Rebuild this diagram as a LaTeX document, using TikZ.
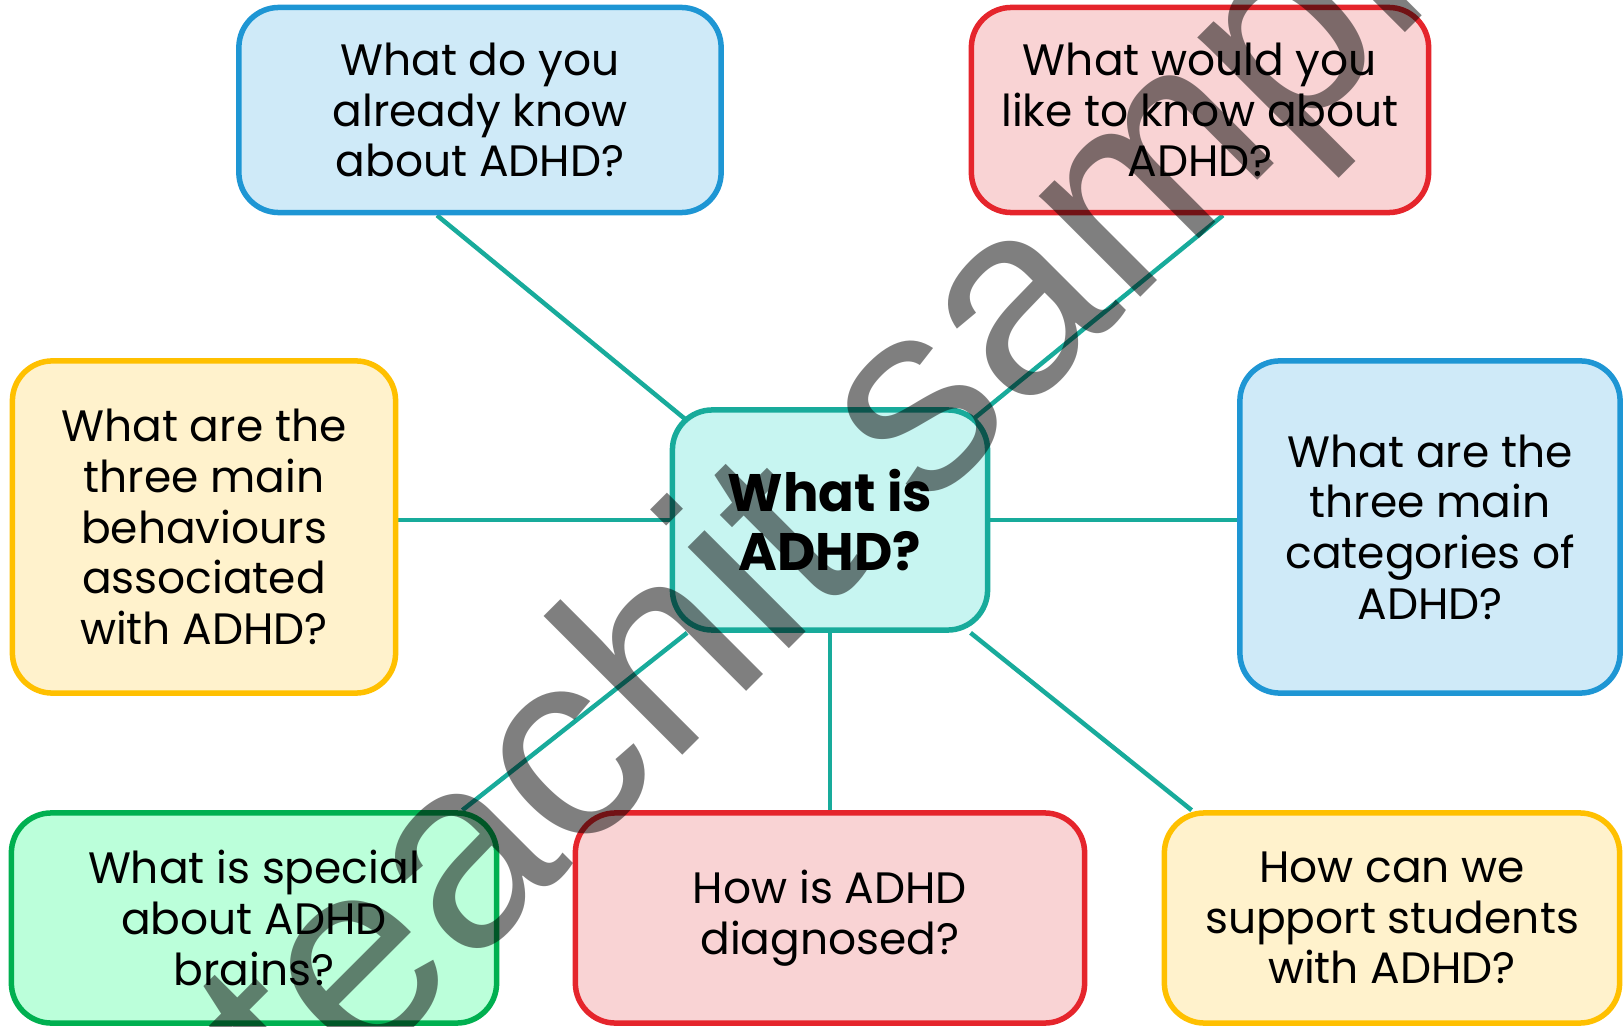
\documentclass[tikz,border=0pt]{standalone}
\usepackage{fontspec}
\setmainfont{Poppins}
\newfontfamily\markfont{Liberation Sans}
\usetikzlibrary{backgrounds}
\definecolor{blueline}{HTML}{1E96D4}
\definecolor{bluefill}{HTML}{CFEAF8}
\definecolor{redline}{HTML}{E5252C}
\definecolor{redfill}{HTML}{F9D3D4}
\definecolor{yellowline}{HTML}{FFC000}
\definecolor{yellowfill}{HTML}{FFF2CC}
\definecolor{greenline}{HTML}{00B050}
\definecolor{greenfill}{HTML}{BBFFDA}
\definecolor{tealline}{HTML}{18AB9B}
\definecolor{tealfill}{HTML}{C7F5F1}
\tikzset{
	qbox/.style 2 args={draw=#1, fill=#2, line width=0.055cm, rounded corners=0.4cm, align=center, inner sep=0pt, font=\fontsize{12.5}{14.4}\selectfont},
	spoke/.style={draw=tealline, line width=0.045cm},
}

\begin{document}
\begin{tikzpicture}[x=0.01cm, y=-0.01cm]
				\useasboundingbox (0,0) rectangle (1623,1027);
				
				\node[qbox={tealline}{tealfill}, minimum width=3.15cm, minimum height=2.2cm, font=\bfseries\fontsize{15}{16.8}\selectfont] (centre) at (830,520) {What is\\ADHD?};
				
				\node[qbox={blueline}{bluefill}, minimum width=4.82cm, minimum height=2.05cm] (know) at (480,110) {What do you\\already know\\about ADHD?};
				\node[qbox={redline}{redfill}, minimum width=4.57cm, minimum height=2.05cm] (like) at (1200,110) {What would you\\like to know about\\ADHD?};
				\node[qbox={yellowline}{yellowfill}, minimum width=3.83cm, minimum height=3.32cm] (behav) at (204,527) {What are the\\three main\\behaviours\\associated\\with ADHD?};
				\node[qbox={blueline}{bluefill}, minimum width=3.8cm, minimum height=3.32cm] (cats) at (1430,527) {What are the\\three main\\categories of\\ADHD?};
				\node[qbox={greenline}{greenfill}, minimum width=4.85cm, minimum height=2.1cm] (brains) at (254,918) {What is special\\about ADHD\\brains?};
				\node[qbox={redline}{redfill}, minimum width=5.09cm, minimum height=2.1cm] (diag) at (830,918) {How is ADHD\\diagnosed?};
				\node[qbox={yellowline}{yellowfill}, minimum width=4.55cm, minimum height=2.1cm] (support) at (1392,918) {How can we\\support students\\with ADHD?};
				
				\begin{scope}[on background layer]
					\draw[spoke] ([yshift=-0.18cm]centre.center) -- ([xshift=-0.43cm]know.south);
					\draw[spoke] ([yshift=-0.16cm]centre.center) -- ([xshift=0.23cm]like.south);
					\draw[spoke] (centre.west) -- (centre.west -| behav.east);
					\draw[spoke] (centre.east) -- (centre.east -| cats.west);
					\draw[spoke] (centre) -- (diag);
					\draw[spoke] (centre) -- ([xshift=0.3cm]support.north west);
					\draw[spoke] (centre) -- ([xshift=-0.37cm]brains.north east);
				\end{scope}
				
				\node[rotate=45, anchor=base, text=black, opacity=0.5, font=\markfont\fontsize{77}{77}\selectfont] (mark) at (925,513) {teachit sample};
			\end{tikzpicture}
\end{document}
